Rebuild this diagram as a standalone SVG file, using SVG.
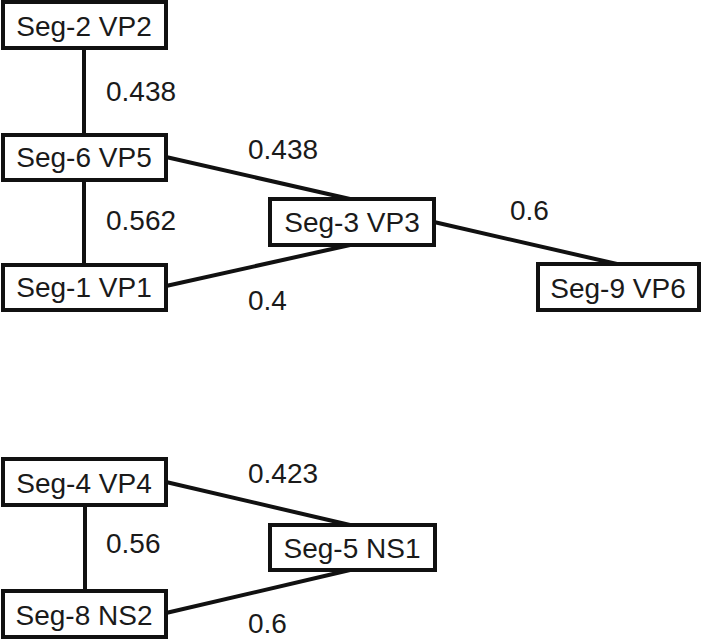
<svg xmlns="http://www.w3.org/2000/svg" width="704" height="641" viewBox="0 0 704 641">
<style>
.box{fill:#fff;stroke:#111;stroke-width:4}
.lbl{font-family:"Liberation Sans",Arial,sans-serif;font-size:28px;fill:#1a1a1a}
.nt{font-family:"Liberation Sans",Arial,sans-serif;font-size:28px;fill:#1a1a1a;text-anchor:middle}
.edge{stroke:#111;stroke-width:4;fill:none}
</style>
<rect width="704" height="641" fill="#fff"/>
<g id="connectors">
<line class="edge" x1="84" y1="48" x2="84" y2="135"/>
<line class="edge" x1="84" y1="180" x2="84" y2="265"/>
<line class="edge" x1="166" y1="157" x2="350" y2="199"/>
<line class="edge" x1="166" y1="286" x2="350" y2="245"/>
<line class="edge" x1="434" y1="222" x2="617" y2="264"/>
<line class="edge" x1="85" y1="505" x2="85" y2="591"/>
<line class="edge" x1="166" y1="482" x2="350" y2="525"/>
<line class="edge" x1="166" y1="613" x2="350" y2="570"/>
<text class="lbl" x="106" y="101">0.438</text>
<text class="lbl" x="106" y="230">0.562</text>
<text class="lbl" x="248" y="159">0.438</text>
<text class="lbl" x="248" y="310">0.4</text>
<text class="lbl" x="510" y="220">0.6</text>
<text class="lbl" x="248" y="483">0.423</text>
<text class="lbl" x="106" y="553">0.56</text>
<text class="lbl" x="248" y="633">0.6</text>
</g>
<g id="seg2"><rect class="box" x="3" y="2" width="163" height="46"/><text class="nt" x="84" y="36">Seg-2 VP2</text></g>
<g id="seg6"><rect class="box" x="3" y="135" width="163" height="45"/><text class="nt" x="84" y="167">Seg-6 VP5</text></g>
<g id="seg1"><rect class="box" x="3" y="265" width="163" height="45"/><text class="nt" x="84" y="297">Seg-1 VP1</text></g>
<g id="seg3"><rect class="box" x="270" y="199" width="164" height="46"/><text class="nt" x="352" y="232">Seg-3 VP3</text></g>
<g id="seg9"><rect class="box" x="538" y="264" width="161" height="46"/><text class="nt" x="618" y="298">Seg-9 VP6</text></g>
<g id="seg4"><rect class="box" x="3" y="459" width="163" height="46"/><text class="nt" x="84" y="493">Seg-4 VP4</text></g>
<g id="seg5"><rect class="box" x="270" y="525" width="165" height="45"/><text class="nt" x="352" y="558">Seg-5 NS1</text></g>
<g id="seg8"><rect class="box" x="3" y="591" width="163" height="46"/><text class="nt" x="84" y="625">Seg-8 NS2</text></g>
</svg>
